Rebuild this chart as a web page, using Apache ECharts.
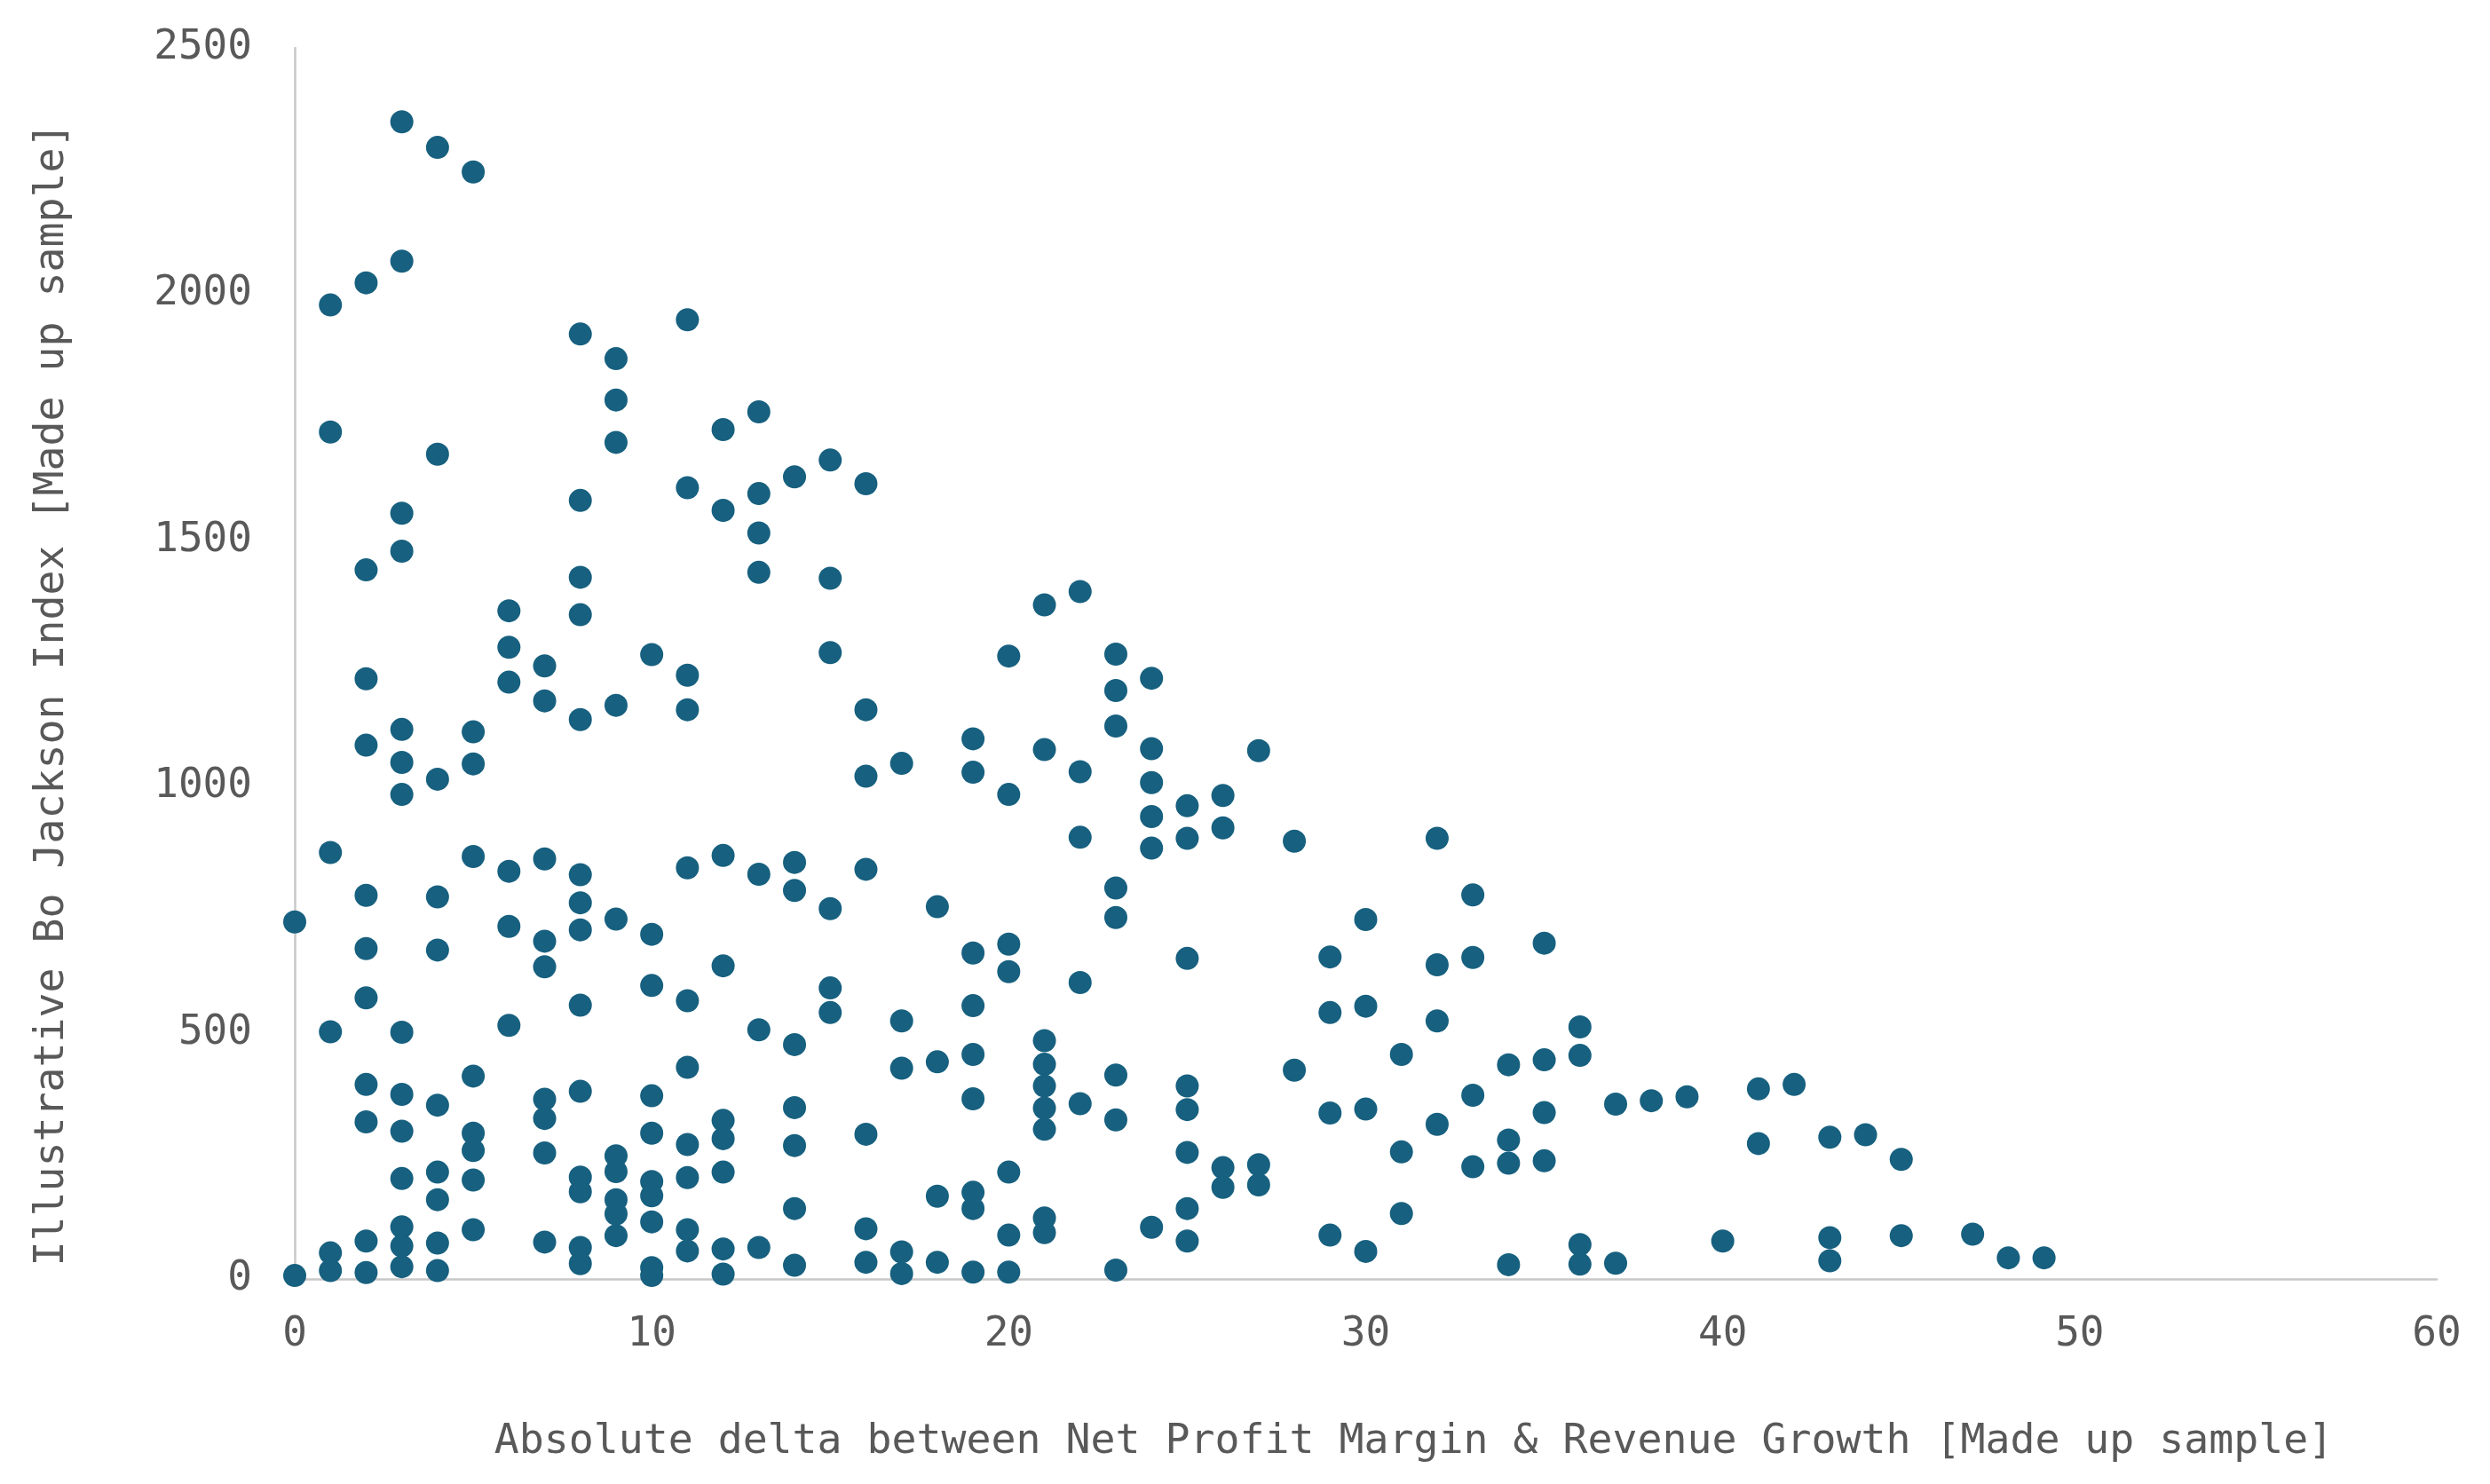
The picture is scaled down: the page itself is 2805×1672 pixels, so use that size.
<!DOCTYPE html>
<html>
<head>
<meta charset="utf-8">
<script src="https://cdn.jsdelivr.net/npm/echarts@6/dist/echarts.min.js"></script>
<style>
  html, body { margin: 0; padding: 0; background: #fff; }
  #chart { width: 2805px; height: 1672px; }
</style>
</head>
<body>
<div id="chart"></div>
<script>
// x: absolute delta (integer steps), y: index values read per delta column
const deltas = [0, 1, 2, 3, 4, 5, 6, 7, 8, 9, 10, 11, 12, 13, 14, 15, 16, 17, 18, 19, 20,
  21, 22, 23, 24, 25, 26, 27, 28, 29, 30, 31, 32, 33, 34, 35, 36, 37, 38, 39, 40,
  41, 42, 43, 44, 45, 47, 48, 49]

const indexValues = [
  [725, 7],
  [1978, 1720, 866, 502, 53, 17],
  [2023, 1440, 1219, 1084, 779, 671, 571, 395, 319, 77, 13],
  [2350, 2067, 1555, 1478, 1116, 1049, 984, 501, 375, 300, 204, 106, 67, 25],
  [2298, 1675, 1015, 776, 668, 353, 217, 161, 73, 17],
  [2248, 1111, 1046, 858, 412, 296, 261, 201, 100],
  [1357, 1283, 1212, 828, 716, 515],
  [1245, 1174, 853, 686, 634, 365, 326, 256, 75],
  [1919, 1581, 1425, 1349, 1136, 821, 764, 709, 556, 381, 207, 177, 64, 31],
  [1869, 1785, 1699, 1165, 731, 250, 218, 161, 132, 88],
  [1268, 700, 596, 372, 296, 198, 169, 116, 23, 7],
  [1948, 1607, 1226, 1156, 835, 565, 430, 273, 206, 100, 57],
  [1725, 1561, 860, 636, 322, 285, 217, 61, 10],
  [1761, 1595, 1515, 1435, 822, 506, 64],
  [1629, 846, 789, 476, 348, 271, 143, 28],
  [1663, 1423, 1272, 752, 591, 541],
  [1615, 1156, 1021, 832, 294, 102, 34],
  [1047, 524, 428, 55, 11],
  [756, 441, 168, 34],
  [1097, 1029, 662, 555, 456, 366, 176, 143, 14],
  [1265, 984, 680, 624, 217, 89, 14],
  [1369, 1075, 484, 436, 392, 347, 304, 124, 94],
  [1396, 1030, 897, 602, 356],
  [1269, 1195, 1123, 794, 734, 414, 323, 18],
  [1220, 1077, 1008, 939, 875, 105],
  [961, 895, 651, 392, 344, 257, 143, 77],
  [982, 916, 226, 186],
  [1073, 232, 191],
  [889, 424],
  [654, 541, 337, 89],
  [730, 554, 345, 56],
  [456, 258, 133],
  [895, 638, 524, 314],
  [780, 653, 373, 228],
  [435, 282, 235, 29],
  [682, 445, 338, 240],
  [512, 454, 70, 30],
  [355, 32],
  [362],
  [370],
  [77],
  [386, 275],
  [395],
  [288, 84, 37],
  [293],
  [243, 88],
  [91],
  [43],
  [43]
]

const xTitle = 'Absolute delta between Net Profit Margin & Revenue Growth [Made up sample]'
const yTitle = 'Illustrative Bo Jackson Index [Made up sample]'

const points = []
deltas.forEach((d, i) => {
  indexValues[i].forEach(v => points.push([d, v]))
})

const font = '"DejaVu Sans Mono", "Liberation Mono", monospace'
const textColor = '#595959'
const lineColor = '#c8c8c8'

const chart = echarts.init(document.getElementById('chart'))
chart.setOption({
  animation: false,
  grid: { left: 332, right: 60, top: 54, bottom: 231 },
  xAxis: {
    type: 'value',
    min: 0,
    max: 60,
    interval: 10,
    axisLine: { lineStyle: { color: lineColor, width: 2.5 } },
    axisTick: { show: false },
    splitLine: { show: false },
    axisLabel: { color: textColor, fontFamily: font, fontSize: 46, margin: 40 },
    name: xTitle,
    nameLocation: 'middle',
    nameGap: 160,
    nameTextStyle: { color: textColor, fontFamily: font, fontSize: 46.5, padding: [0, 0, 0, 108] }
  },
  yAxis: {
    type: 'value',
    min: 0,
    max: 2500,
    interval: 500,
    axisLine: { show: true, lineStyle: { color: lineColor, width: 2.5 } },
    axisTick: { show: false },
    splitLine: { show: false },
    axisLabel: { color: textColor, fontFamily: font, fontSize: 46, margin: 48, formatter: v => String(v) },
    name: yTitle,
    nameLocation: 'middle',
    nameGap: 250,
    nameTextStyle: { color: textColor, fontFamily: font, fontSize: 46.5, padding: [0, 70, 0, 0] }
  },
  series: [{
    type: 'scatter',
    data: points,
    symbolSize: 26,
    itemStyle: { color: '#17607f', opacity: 1 }
  }]
})
</script>
</body>
</html>
